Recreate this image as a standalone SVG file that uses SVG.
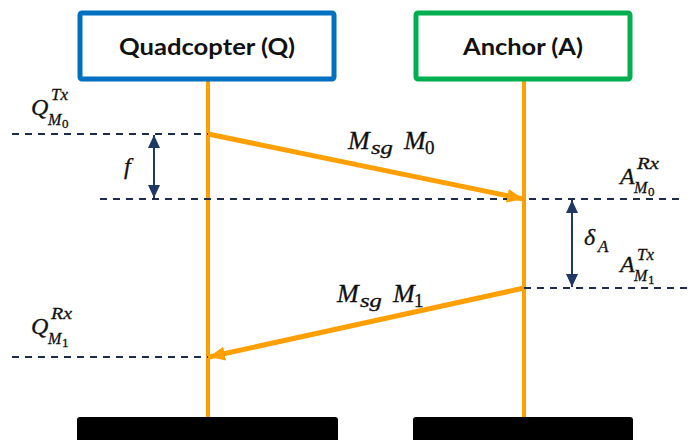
<svg xmlns="http://www.w3.org/2000/svg" width="690" height="440" viewBox="0 0 690 440">
<style>
.box{fill:#fff;stroke-width:5}
.title{font-family:Lato,"Open Sans","Liberation Sans",sans-serif;font-weight:700;font-size:22px;fill:#111;text-anchor:middle}
.life{stroke:#FF9F00;stroke-width:4;fill:none}
.msg{stroke:#FF9F00;stroke-width:5;fill:none}
.dash{stroke:#1F2D4D;stroke-width:1.8;stroke-dasharray:7 6;fill:none}
.iv{stroke:#1F3864;stroke-width:2;fill:none}
.m{font-family:"Liberation Serif","DejaVu Serif",serif;font-style:italic;fill:#111;stroke:#111;stroke-width:0.3}
.up{font-style:normal}
</style>
<defs>
<marker id="oa" markerUnits="userSpaceOnUse" markerWidth="18" markerHeight="14" refX="16" refY="7" orient="auto">
<path d="M0,0 L16,7 L0,14 z" fill="#FF9F00"/>
</marker>
<marker id="na" markerUnits="userSpaceOnUse" markerWidth="14" markerHeight="12" refX="13" refY="6" orient="auto">
<path d="M0,0 L13,6 L0,12 z" fill="#1F3864"/>
</marker>
<marker id="nas" markerUnits="userSpaceOnUse" markerWidth="14" markerHeight="12" refX="0" refY="6" orient="auto">
<path d="M13,0 L0,6 L13,12 z" fill="#1F3864"/>
</marker>
</defs>

<g id="connectors">
<line class="life" x1="208" y1="80" x2="208" y2="418"/>
<line class="life" x1="524" y1="80" x2="524" y2="418"/>
<line class="dash" x1="12" y1="134" x2="208" y2="134"/>
<line class="dash" x1="100" y1="199" x2="680" y2="199"/>
<line class="dash" x1="524" y1="288" x2="690" y2="288"/>
<line class="dash" x1="12" y1="357" x2="208" y2="357"/>
<line class="msg" x1="208" y1="134" x2="523" y2="199" marker-end="url(#oa)"/>
<line class="msg" x1="524" y1="288" x2="209" y2="357" marker-end="url(#oa)"/>
<line class="iv" x1="154" y1="135" x2="154" y2="198" marker-start="url(#nas)" marker-end="url(#na)"/>
<line class="iv" x1="572" y1="200" x2="572" y2="287" marker-start="url(#nas)" marker-end="url(#na)"/>
</g>

<g id="quadcopter">
<rect class="box" x="80" y="13" width="254" height="66" rx="2" stroke="#0070C0"/>
<text class="title" x="207" y="55" textLength="176" lengthAdjust="spacingAndGlyphs">Quadcopter (Q)</text>
</g>
<g id="anchor">
<rect class="box" x="416" y="13" width="214" height="66" rx="2" stroke="#00B050"/>
<text class="title" x="523" y="55" textLength="120" lengthAdjust="spacingAndGlyphs">Anchor (A)</text>
</g>
<g id="quadcopter-end">
<rect x="77" y="417" width="261" height="30" rx="3" fill="#000"/>
</g>
<g id="anchor-end">
<rect x="413" y="417" width="220" height="30" rx="3" fill="#000"/>
</g>

<g id="labels">
<text class="m"><tspan x="31" y="115" font-size="24">Q</tspan><tspan x="51" y="100" font-size="17" textLength="17" lengthAdjust="spacingAndGlyphs">Tx</tspan><tspan x="48" y="125" font-size="16">M</tspan><tspan class="up" x="62" y="128" font-size="13">0</tspan></text>
<text class="m"><tspan x="31" y="334" font-size="24">Q</tspan><tspan x="51" y="319" font-size="17" textLength="21" lengthAdjust="spacingAndGlyphs">Rx</tspan><tspan x="48" y="344" font-size="16">M</tspan><tspan class="up" x="62" y="347" font-size="13">1</tspan></text>
<text class="m"><tspan x="620" y="184" font-size="24">A</tspan><tspan x="637" y="169" font-size="17" textLength="22" lengthAdjust="spacingAndGlyphs">Rx</tspan><tspan x="634" y="193" font-size="16">M</tspan><tspan class="up" x="648" y="196" font-size="13">0</tspan></text>
<text class="m"><tspan x="620" y="272" font-size="24">A</tspan><tspan x="637" y="260" font-size="17" textLength="17" lengthAdjust="spacingAndGlyphs">Tx</tspan><tspan x="634" y="281" font-size="16">M</tspan><tspan class="up" x="648" y="284" font-size="13">1</tspan></text>
<text class="m" x="124" y="174" font-size="24">f</text>
<text class="m"><tspan x="584" y="245" font-size="24">δ</tspan><tspan x="598" y="252" font-size="17">A</tspan></text>
<text class="m"><tspan x="348" y="149" font-size="26">M</tspan><tspan x="371" y="154" font-size="19" textLength="22" lengthAdjust="spacingAndGlyphs">sg</tspan><tspan x="404" y="149" font-size="26">M</tspan><tspan class="up" x="425" y="154" font-size="19">0</tspan></text>
<text class="m"><tspan x="337" y="302" font-size="26">M</tspan><tspan x="360" y="307" font-size="19" textLength="22" lengthAdjust="spacingAndGlyphs">sg</tspan><tspan x="393" y="302" font-size="26">M</tspan><tspan class="up" x="414" y="307" font-size="19">1</tspan></text>
</g>
</svg>
